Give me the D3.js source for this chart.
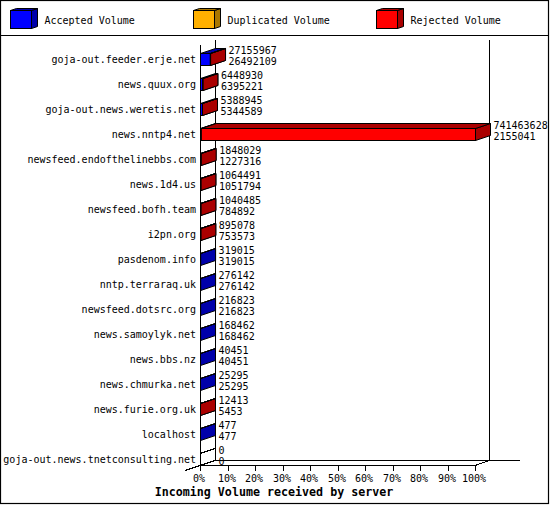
<!DOCTYPE html>
<html><head><meta charset="utf-8">
<script src="https://cdn.jsdelivr.net/npm/d3@7/dist/d3.min.js"></script>
<style>html,body{margin:0;padding:0;background:#fff}svg{display:block}
text{font-family:"DejaVu Sans Mono","Liberation Mono",monospace;fill:#000}</style></head><body>
<div id="c"></div>
<script>
const servers = ["goja-out.feeder.erje.net","news.quux.org","goja-out.news.weretis.net","news.nntp4.net","newsfeed.endofthelinebbs.com","news.1d4.us","newsfeed.bofh.team","i2pn.org","pasdenom.info","nntp.terraraq.uk","newsfeed.dotsrc.org","news.samoylyk.net","news.bbs.nz","news.chmurka.net","news.furie.org.uk","localhost","goja-out.news.tnetconsulting.net"];
const totalVolume = [27155967,6448930,5388945,741463628,1848029,1064491,1040485,895078,319015,276142,216823,168462,40451,25295,12413,477,0];
const acceptedVolume = [26492109,6395221,5344589,2155041,1227316,1051794,784892,753573,319015,276142,216823,168462,40451,25295,5453,477,0];
const legendNames = ["Accepted Volume","Duplicated Volume","Rejected Volume"];
const legendColors = [["#0000ff","#0000aa"],["#ffb000","#aa7700"],["#ff0000","#aa0000"]];
const percentTicks = [0,10,20,30,40,50,60,70,80,90,100];
const W=550,H=505,dx=15,dy=5;
const svg=d3.select("#c").append("svg").attr("width",W).attr("height",H);
const x=d3.scaleLinear().domain([0,d3.max(totalVolume)]).range([200,475]);
const pct=d3.scaleLinear().domain([0,100]).range([200,475]);
const y=d3.scaleBand().domain(servers).range([46.5,471.5]);
const ln=(a,b,c,d)=>svg.append("line").attr("x1",a).attr("y1",b).attr("x2",c).attr("y2",d).attr("stroke","#000").attr("stroke-width",1).attr("shape-rendering","crispEdges");
svg.append("rect").attr("x",.5).attr("y",.5).attr("width",548).attr("height",503).attr("fill","#fff").attr("stroke","#000").attr("stroke-width",1.2);
ln(0,35.5,549,35.5);
// legend
const lx=[10.5,193.5,376.5];
legendNames.forEach((n,i)=>{
  const g=svg.append("g"),[c,s]=legendColors[i],X=lx[i],Y=10.5;
  g.append("path").attr("d",`M${X+21} ${Y}l6 -2v18l-6 2z`).attr("fill",s).attr("stroke","#000");
  g.append("path").attr("d",`M${X} ${Y}l6 -2h21l-6 2z`).attr("fill",s).attr("stroke","#000");
  g.append("rect").attr("x",X).attr("y",Y).attr("width",21).attr("height",18).attr("fill",c).attr("stroke","#000");
  g.append("text").attr("x",X+34).attr("y",24).attr("font-size",10).text(n);
});
// axes
ln(215.5,40,215.5,460.5);ln(489.5,40,489.5,460.5);ln(215,460.5,520,460.5);
ln(200.5,45,200.5,465.5);ln(200,465.5,475,465.5);
ln(185,470.5,215,460.5);ln(475,465.5,489.5,460.5);
percentTicks.forEach(p=>{
  const X=Math.round(pct(p))+.5;
  ln(X,465.5,X,471);
  svg.append("text").attr("x",X-1.5).attr("y",482).attr("text-anchor","middle").attr("font-size",10).text(p+"%");
});
// bars
function box(x0,x1,t,c,s){
  const h=12;
  const g=svg.append("g").attr("stroke","#000").attr("stroke-width",1);
  g.append("path").attr("d",`M${x1} ${t}l${dx} ${-dy}v${h}l${-dx} ${dy}z`).attr("fill",s);
  g.append("path").attr("d",`M${x0} ${t}l${dx} ${-dy}h${x1-x0}l${-dx} ${dy}z`).attr("fill",s);
  g.append("rect").attr("x",x0).attr("y",t).attr("width",x1-x0).attr("height",h).attr("fill",c);
}
servers.forEach((n,i)=>{
  const t=Math.round(y(n)+y.bandwidth()/2-6.5)+.5;
  const a=x(acceptedVolume[i]),b=x(totalVolume[i]);
  const mid=t+6;
  svg.append("text").attr("x",196).attr("y",mid+3.5).attr("text-anchor","end").attr("font-size",10).text(n);
  if(totalVolume[i]>0){
    box(200.5,a+.5,t,legendColors[0][0],legendColors[0][1]);
    if(totalVolume[i]>acceptedVolume[i]) box(a+.5,b+.5,t,legendColors[2][0],legendColors[2][1]);
  } else {
    ln(200,t,215,t-5);ln(200,t+12,215,t+7);
  }
  svg.append("text").attr("x",b+dx+3.5).attr("y",mid-6).attr("font-size",10).text(totalVolume[i]);
  svg.append("text").attr("x",b+dx+3.5).attr("y",mid+5).attr("font-size",10).text(acceptedVolume[i]);
});
svg.append("text").attr("x",274).attr("y",496).attr("text-anchor","middle").attr("font-size",11.67).attr("font-weight","bold").text("Incoming Volume received by server");
</script></body></html>
